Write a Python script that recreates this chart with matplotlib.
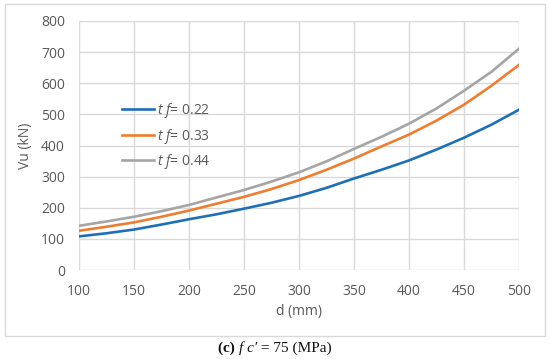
import numpy as np
import matplotlib.pyplot as plt
from matplotlib.patches import Rectangle

# values
d = [100, 125, 150, 175, 200, 225, 250, 275, 300, 325, 350, 375, 400, 425, 450, 475, 500]
vu_022 = [108, 118, 130, 146, 163, 179, 197, 216, 238, 264, 294, 322, 352, 387, 425, 467, 515]
vu_033 = [126, 139, 153, 171, 191, 213, 235, 260, 289, 322, 358, 397, 435, 480, 531, 592, 659]
vu_044 = [142, 156, 171, 189, 209, 233, 257, 284, 314, 349, 389, 428, 470, 519, 576, 637, 711]
labels = ['0.22', '0.33', '0.44']
colors = ['#1F6FB6', '#ED7D31', '#A5A5A5']

plt.rcParams['font.family'] = ['Open Sans', 'DejaVu Sans']
plt.rcParams['mathtext.fontset'] = 'custom'
plt.rcParams['mathtext.it'] = 'Open Sans:italic'
plt.rcParams['mathtext.rm'] = 'Open Sans'

fig = plt.figure(figsize=(5.5, 3.59), dpi=100)
ax = fig.add_axes([79 / 550, 89 / 359, 440 / 550, 249 / 359])

# outer chart frame
fig.patches.append(Rectangle((5 / 550, 23 / 359), 540 / 550, 332 / 359,
                             transform=fig.transFigure, fill=False,
                             edgecolor='#D9D9D9', linewidth=1))

for vals, lab, col in zip([vu_022, vu_033, vu_044], labels, colors):
    ax.plot(d, vals, color=col, linewidth=1.9, label=r'$t\ f$= ' + lab)

ax.set_xlim(100, 500)
ax.set_ylim(0, 800)
ax.set_xticks(range(100, 501, 50))
ax.set_yticks(range(0, 801, 100))
ax.grid(True, color='#D9D9D9', linewidth=1)
ax.set_axisbelow(True)
for s in ax.spines.values():
    s.set_visible(False)
ax.tick_params(length=0, labelsize=10, labelcolor='#595959')
ax.tick_params(axis='y', pad=10)
ax.tick_params(axis='x', pad=10)

ax.set_xlabel('d (mm)', fontsize=10, color='#595959', labelpad=4)
ax.set_ylabel('Vu (kN)', fontsize=10, color='#595959', labelpad=6)

leg = ax.legend(loc='upper left', bbox_to_anchor=(0.086, 0.70), frameon=False,
                fontsize=10, handlelength=2.3, handletextpad=0.2,
                labelspacing=0.45, borderaxespad=0)
for t in leg.get_texts():
    t.set_color('#595959')

# caption built from pieces: bold (c), italic fc', regular rest
fig.canvas.draw()
r = fig.canvas.get_renderer()
parts = [('(c) ', 'bold', 'normal'), ('f c\u2032', 'normal', 'italic'),
         (' = 75 (MPa)', 'normal', 'normal')]
objs = []
for txt, w, st in parts:
    objs.append(fig.text(0, 11 / 359, txt, fontsize=11, fontweight=w, fontstyle=st,
                         family='Liberation Serif', color='#111111', va='center'))
widths = [o.get_window_extent(r).width for o in objs]
x0 = (550 - sum(widths)) / 2
for o, w in zip(objs, widths):
    o.set_x(x0 / 550)
    x0 += w

fig.savefig('out.png', dpi=100)
